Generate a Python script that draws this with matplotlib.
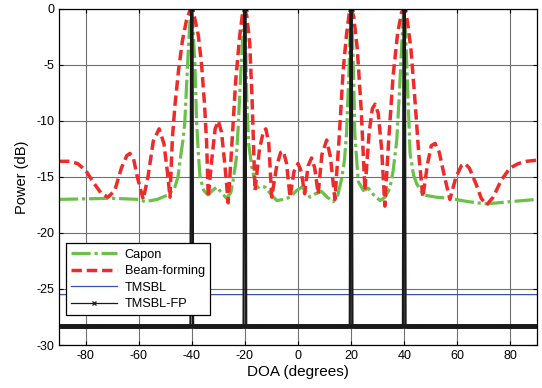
import numpy as np
import matplotlib
matplotlib.use('Agg')
import matplotlib.pyplot as plt

plt.rcParams['font.family'] = ['Liberation Sans', 'DejaVu Sans']
plt.rcParams['axes.unicode_minus'] = False

# 真实来波方向
true_doas = [-40, -20, 20, 40]

# Capon 谱 (deg, dB)
capon_doa = [-90, -80, -70, -60, -57.5, -53, -49, -46.5, -45.2, -44.4, -43.2, -42.6, -41.6, -40.8, -40.3,
             -39.6, -38.8, -38.2, -37.5, -36.9, -35.5, -33.9, -32.2, -30.6, -28.8, -26.9, -25.3, -24.5, -23.3,
             -22.6, -21.5, -20.6, -20.2, -19.7, -19.3, -18.6, -17.4, -15.6, -14, -12.4, -10, -8, -5.5, -3, -0.5,
             1.5, 3, 4.5, 6.5, 8.9, 11, 13.3, 15, 16.4, 17.5, 18.3, 19.2, 19.7, 20, 20.4, 20.9, 21.4, 22.7,
             24.6, 26.5, 28.5, 30.9, 32.8, 34.6, 35.8, 37.2, 38.3, 39.2, 39.8, 40.5, 41.2, 42.2, 43.5, 44.7,
             47.2, 52, 57.2, 64, 71, 80, 90]
capon_db = [-17.0, -16.95, -16.9, -17.0, -17.2, -17.0, -16.6, -16.0, -15.0, -13.5, -11.5, -10.0, -5.0, -1.5, 0,
            -1.5, -5.0, -10.0, -13.0, -15.0, -16.2, -16.6, -16.2, -15.9, -16.4, -16.9, -16.4, -15.4, -13.5,
            -10.9, -5.5, -1.5, 0, -3.0, -8.0, -12.0, -14.1, -16.0, -15.8, -15.9, -16.6, -17.1, -17.0, -16.8, -16.2,
            -15.9, -16.3, -16.8, -16.5, -16.3, -16.8, -17.2, -16.6, -15.2, -13.5, -11.0, -5.5, -1.5, 0, -1.5,
            -5.5, -11.2, -15.4, -16.2, -16.0, -16.6, -17.1, -16.8, -16.0, -14.5, -11.7, -7.0, -2.5, 0, -2.0,
            -6.5, -12.9, -14.8, -15.6, -16.6, -16.8, -16.9, -17.2, -17.4, -17.2, -17.0]

# 波束形成谱 (deg, dB)
bf_doa = [-90, -86, -83, -80, -77, -74, -71.5, -69, -66.5, -64.5, -63.3, -62, -60.5, -58.3, -56.5, -54.5,
          -52.3, -50.5, -49.2, -48.2, -47.3, -46.3, -45, -43.5, -42, -40.5, -39, -37.5, -36.3, -35.2, -34.4,
          -33.8, -32.5, -31.2, -30, -28.8, -27.5, -26.3, -25, -23.5, -22, -21, -20.2, -19.3, -18.2, -17.3,
          -16.2, -14.5, -13, -12.1, -11, -9.9, -8, -6.5, -5.5, -4.3, -3, -1.5, 0, 1.2, 2.5, 3.8, 5.1, 6.3,
          7.6, 9, 10.8, 12.2, 13.9, 15.5, 17, 18.3, 19.3, 20, 21, 22.3, 23.8, 25.2, 26.8, 28, 29, 30.2, 31.5,
          32.7, 34.2, 35.8, 37.5, 39, 39.8, 41, 42.5, 44, 45.5, 47, 48.8, 50.2, 51.6, 53.2, 55.2, 57.2, 59.5,
          61.5, 62.9, 64.5, 67, 69, 71, 73.5, 76.5, 79.8, 83, 86, 90]
bf_db = [-13.6, -13.6, -13.8, -14.4, -15.5, -16.5, -16.8, -16.2, -14.2, -13.1, -12.9, -13.3, -15.0, -17.0, -15.0,
         -11.8, -10.7, -12.0, -14.5, -16.8, -11.5, -8.5, -5.5, -2.8, -1.0, 0, -0.7, -2.4, -5.0, -8.5, -12.0,
         -16.8, -13.5, -10.7, -10.0, -11.0, -14.0, -17.3, -12.5, -6.5, -2.5, -0.6, 0, -0.6, -3.0, -8.0,
         -16.2, -12.5, -10.9, -10.7, -12.0, -16.8, -14.0, -12.8, -12.7, -13.8, -16.8, -14.5, -13.8, -14.5,
         -16.5, -14.0, -13.3, -14.2, -16.5, -13.0, -11.7, -13.2, -17.0, -11.5, -5.5, -2.2, -0.4, 0, -0.7,
         -3.5, -9.0, -16.2, -11.0, -8.9, -8.5, -9.3, -12.5, -17.6, -11.5, -6.0, -2.2, -0.3, 0, -0.8, -3.5,
         -8.0, -13.0, -16.8, -13.8, -12.2, -12.0, -12.8, -15.0, -17.0, -15.0, -14.0, -13.8, -14.2, -15.6,
         -16.9, -17.5, -16.8, -15.3, -14.2, -13.8, -13.6, -13.5]

# TMSBL / TMSBL-FP 的底噪水平
tmsbl_floor = -25.5
tmsblfp_floor = -28.3

grid = np.arange(-90, 90.1, 0.25)
tmsbl_db = np.full(grid.shape, tmsbl_floor)
tmsblfp_db = np.full(grid.shape, tmsblfp_floor)
for d in true_doas:
    near = np.abs(grid - d) <= 0.26
    tmsbl_db[near] = 0
    tmsblfp_db[near] = 0

fig = plt.figure(figsize=(5.42, 3.88), dpi=100)
ax = fig.add_axes([59 / 542, 1 - 345 / 388, 478 / 542, 336 / 388])

ax.plot(capon_doa, capon_db, color='#6cc04a', lw=2.3, linestyle=(0, (6, 1.2, 1, 1.2)), label='Capon')
ax.plot(bf_doa, bf_db, color='#ee2a2a', lw=2.5, linestyle=(0, (3, 1.4)), label='Beam-forming')
ax.plot(grid, tmsbl_db, color='#3556a8', lw=0.9, label='TMSBL')
ax.plot(grid, tmsblfp_db, color='#1a1a1a', lw=1.6, marker='x', ms=3.2, mew=0.9, label='TMSBL-FP')

ax.set_xlim(-90, 90)
ax.set_ylim(-30, 0)
ax.set_xticks(np.arange(-80, 81, 20))
ax.set_yticks(np.arange(-30, 1, 5))
ax.grid(True, color='#707070', lw=0.8, linestyle='-')
ax.tick_params(direction='in', top=True, right=True, labelsize=9, length=3, width=0.8)
for s in ax.spines.values():
    s.set_linewidth(0.9)

ax.set_xlabel('DOA (degrees)', fontsize=11, labelpad=2)
ax.set_ylabel('Power (dB)', fontsize=10.5, labelpad=5)

# 图例中的 TMSBL-FP 只显示一个标记
leg = ax.legend(loc='lower left', bbox_to_anchor=(0.0146, 0.089), borderaxespad=0,
                fontsize=9.2, handlelength=3.6, handletextpad=0.6, labelspacing=0.35,
                fancybox=False, framealpha=1, edgecolor='black', borderpad=0.4, markerscale=1)
leg.get_frame().set_linewidth(0.9)
leg.get_lines()[3].set_linewidth(0.9)

plt.savefig('out.png', dpi=100)
